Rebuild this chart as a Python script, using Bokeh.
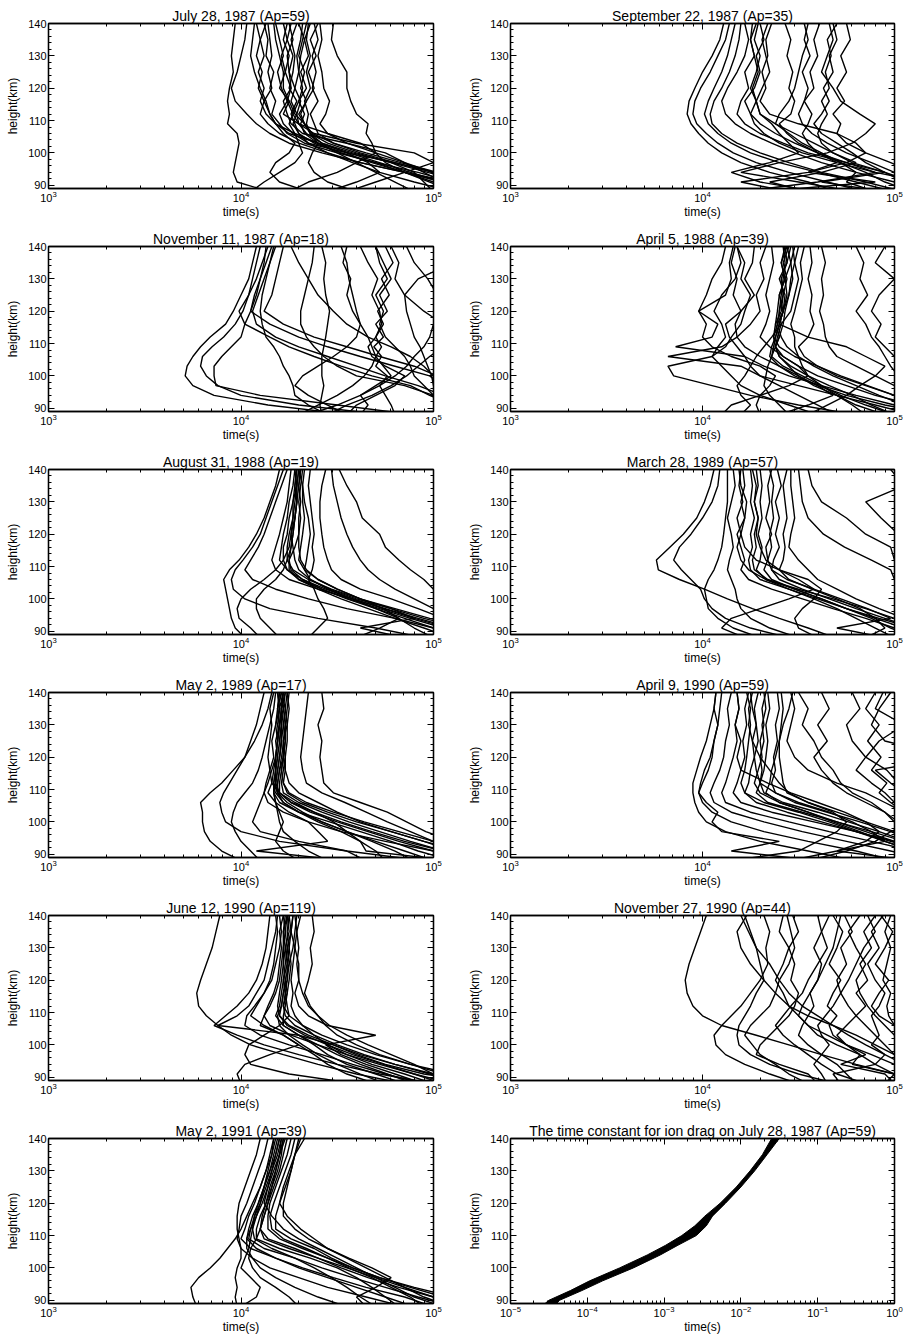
from bokeh.plotting import figure
from bokeh.layouts import column, row
from bokeh.models import (LogAxis, LinearAxis, LogTicker, SingleIntervalTicker,
                          Range1d, Title, CustomJSTickFormatter)
from bokeh.embed import file_html
from bokeh.resources import INLINE

FONT = "Liberation Sans"

# heights (km) at which every profile is sampled
heights_km = [88, 91, 94, 97, 100, 103, 106, 109, 112, 116, 120, 125, 130, 135, 140]

# each profile: log10(time in s), one value per entry of heights_km
jul87 = [
    [4.15, 3.98, 3.96, 3.97, 3.98, 3.99, 3.98, 3.93, 3.94, 3.93, 3.94, 3.96, 3.95, 3.96, 3.97],
    [5.30, 5.10, 4.85, 4.62, 4.42, 4.25, 4.15, 4.08, 4.03, 3.97, 3.95, 3.98, 4.00, 4.02, 4.03],
    [5.20, 5.05, 4.85, 4.62, 4.45, 4.30, 4.20, 4.14, 4.10, 4.12, 4.09, 4.11, 4.08, 4.10, 4.08],
    [5.30, 5.10, 4.92, 4.70, 4.50, 4.33, 4.24, 4.20, 4.16, 4.18, 4.15, 4.17, 4.13, 4.14, 4.12],
    [5.40, 5.20, 5.00, 4.80, 4.55, 4.35, 4.27, 4.22, 4.20, 4.24, 4.21, 4.19, 4.22, 4.20, 4.18],
    [5.10, 4.90, 4.72, 4.58, 4.45, 4.35, 4.30, 4.28, 4.26, 4.29, 4.25, 4.27, 4.28, 4.26, 4.29],
    [5.30, 5.05, 4.85, 4.68, 4.52, 4.40, 4.33, 4.31, 4.33, 4.30, 4.32, 4.30, 4.31, 4.33, 4.30],
    [4.60, 4.45, 4.38, 4.35, 4.37, 4.40, 4.36, 4.34, 4.35, 4.33, 4.36, 4.34, 4.36, 4.34, 4.35],
    [5.50, 5.25, 5.00, 4.80, 4.62, 4.48, 4.40, 4.38, 4.36, 4.40, 4.37, 4.39, 4.37, 4.40, 4.38],
    [5.20, 5.00, 4.85, 4.75, 4.70, 4.68, 4.65, 4.66, 4.60, 4.57, 4.55, 4.55, 4.50, 4.47, 4.48],
    [4.25, 4.35, 4.50, 4.60, 4.70, 4.62, 4.45, 4.30, 4.22, 4.25, 4.20, 4.23, 4.21, 4.24, 4.22],
    [4.55, 4.70, 4.85, 5.00, 4.90, 4.60, 4.38, 4.30, 4.29, 4.31, 4.28, 4.30, 4.29, 4.31, 4.32],
    [5.00, 4.95, 4.90, 4.78, 4.60, 4.45, 4.36, 4.33, 4.28, 4.25, 4.22, 4.22, 4.20, 4.18, 4.17],
    [4.35, 4.20, 4.15, 4.18, 4.25, 4.28, 4.22, 4.18, 4.15, 4.13, 4.10, 4.07, 4.05, 4.06, 4.07],
    [5.40, 5.20, 5.00, 4.85, 4.70, 4.55, 4.45, 4.41, 4.44, 4.46, 4.43, 4.42, 4.40, 4.42, 4.41],
    [4.90, 4.80, 4.70, 4.60, 4.50, 4.40, 4.28, 4.18, 4.15, 4.12, 4.16, 4.14, 4.16, 4.15, 4.14],
    [5.20, 5.05, 4.95, 4.85, 4.75, 4.55, 4.32, 4.26, 4.24, 4.22, 4.26, 4.25, 4.24, 4.27, 4.25],
    [5.10, 4.98, 4.85, 4.70, 4.52, 4.38, 4.30, 4.27, 4.29, 4.26, 4.28, 4.25, 4.27, 4.24, 4.26],
    [5.35, 5.15, 4.97, 4.78, 4.58, 4.42, 4.34, 4.30, 4.27, 4.30, 4.34, 4.31, 4.35, 4.33, 4.36],
    [4.45, 4.60, 4.72, 4.66, 4.55, 4.42, 4.36, 4.33, 4.31, 4.34, 4.31, 4.33, 4.30, 4.32, 4.34],
    [5.25, 5.05, 4.88, 4.72, 4.56, 4.40, 4.25, 4.18, 4.13, 4.10, 4.12, 4.09, 4.12, 4.10, 4.13],
    [5.45, 5.22, 5.02, 4.83, 4.65, 4.48, 4.37, 4.33, 4.30, 4.34, 4.38, 4.35, 4.39, 4.36, 4.40],
    [4.05, 4.12, 4.20, 4.28, 4.32, 4.30, 4.28, 4.25, 4.27, 4.24, 4.26, 4.23, 4.25, 4.22, 4.24],
]

sep87 = [
    [4.70, 4.55, 4.35, 4.20, 4.10, 4.03, 3.98, 3.94, 3.92, 3.93, 3.96, 4.00, 4.05, 4.09, 4.11],
    [4.85, 4.65, 4.45, 4.28, 4.16, 4.08, 4.02, 3.97, 3.95, 3.96, 3.99, 4.04, 4.08, 4.12, 4.14],
    [5.00, 4.80, 4.60, 4.40, 4.25, 4.15, 4.08, 4.03, 4.01, 4.03, 4.06, 4.10, 4.13, 4.15, 4.17],
    [5.20, 5.00, 4.80, 4.62, 4.48, 4.36, 4.25, 4.17, 4.12, 4.10, 4.13, 4.18, 4.22, 4.24, 4.22],
    [4.20, 4.60, 4.90, 4.75, 4.55, 4.42, 4.30, 4.22, 4.18, 4.20, 4.24, 4.22, 4.27, 4.25, 4.28],
    [5.30, 5.10, 4.95, 4.75, 4.60, 4.48, 4.38, 4.30, 4.25, 4.22, 4.27, 4.30, 4.28, 4.32, 4.30],
    [4.60, 4.30, 4.15, 4.35, 4.50, 4.45, 4.40, 4.36, 4.30, 4.28, 4.31, 4.35, 4.33, 4.31, 4.34],
    [5.10, 4.95, 4.85, 4.72, 4.62, 4.52, 4.45, 4.38, 4.40, 4.45, 4.48, 4.50, 4.52, 4.55, 4.53],
    [4.90, 4.75, 4.80, 4.72, 4.60, 4.55, 4.52, 4.55, 4.57, 4.53, 4.58, 4.56, 4.60, 4.58, 4.61],
    [5.20, 5.05, 4.95, 4.85, 4.78, 4.70, 4.62, 4.58, 4.62, 4.66, 4.63, 4.68, 4.66, 4.70, 4.68],
    [5.30, 5.20, 5.10, 4.98, 4.85, 4.75, 4.70, 4.72, 4.68, 4.74, 4.70, 4.75, 4.72, 4.77, 4.75],
    [4.45, 4.20, 4.55, 4.70, 4.60, 4.50, 4.44, 4.40, 4.46, 4.48, 4.45, 4.47, 4.44, 4.46, 4.43],
    [5.40, 5.15, 4.90, 4.70, 4.52, 4.40, 4.32, 4.27, 4.25, 4.28, 4.26, 4.29, 4.27, 4.25, 4.26],
    [4.30, 4.90, 4.55, 4.75, 4.85, 4.80, 4.70, 4.50, 4.35, 4.30, 4.33, 4.31, 4.34, 4.33, 4.36],
    [4.80, 4.50, 4.20, 4.40, 4.65, 4.78, 4.85, 4.90, 4.82, 4.72, 4.68, 4.62, 4.65, 4.68, 4.66],
    [5.05, 4.85, 4.62, 4.45, 4.30, 4.18, 4.10, 4.05, 4.04, 4.06, 4.10, 4.14, 4.17, 4.19, 4.20],
    [4.55, 4.35, 4.62, 4.80, 4.68, 4.58, 4.48, 4.38, 4.30, 4.28, 4.25, 4.28, 4.30, 4.27, 4.29],
    [5.30, 5.15, 5.00, 4.88, 4.75, 4.65, 4.57, 4.52, 4.50, 4.53, 4.55, 4.52, 4.56, 4.53, 4.55],
    [4.95, 4.62, 4.95, 4.78, 4.68, 4.62, 4.60, 4.62, 4.65, 4.62, 4.66, 4.64, 4.67, 4.65, 4.70],
]

nov87 = [
    [4.57, 4.14, 3.86, 3.75, 3.71, 3.72, 3.75, 3.79, 3.84, 3.92, 3.96, 4.00, 4.04, 4.06, 4.08],
    [4.75, 4.30, 4.00, 3.88, 3.82, 3.79, 3.80, 3.85, 3.91, 3.97, 4.01, 4.04, 4.06, 4.08, 4.10],
    [4.90, 4.50, 4.10, 3.87, 3.86, 3.86, 3.90, 3.95, 4.00, 4.02, 4.05, 4.08, 4.10, 4.12, 4.13],
    [5.30, 5.10, 4.98, 4.88, 4.68, 4.52, 4.38, 4.25, 4.15, 4.02, 3.99, 4.04, 4.08, 4.11, 4.14],
    [5.40, 5.20, 5.05, 4.92, 4.75, 4.60, 4.45, 4.30, 4.18, 4.08, 4.06, 4.09, 4.12, 4.15, 4.18],
    [4.45, 4.35, 4.28, 4.27, 4.25, 4.22, 4.20, 4.17, 4.13, 4.11, 4.10, 4.11, 4.13, 4.15, 4.17],
    [5.30, 5.10, 5.00, 4.85, 4.60, 4.50, 4.43, 4.38, 4.34, 4.31, 4.31, 4.33, 4.35, 4.37, 4.38],
    [4.42, 4.41, 4.42, 4.43, 4.42, 4.42, 4.42, 4.43, 4.44, 4.45, 4.46, 4.44, 4.43, 4.44, 4.42],
    [4.30, 4.40, 4.50, 4.58, 4.64, 4.68, 4.70, 4.68, 4.66, 4.62, 4.60, 4.58, 4.56, 4.55, 4.52],
    [4.55, 4.60, 4.70, 4.80, 4.85, 4.75, 4.68, 4.66, 4.70, 4.73, 4.72, 4.68, 4.71, 4.66, 4.62],
    [5.20, 5.10, 5.00, 4.95, 4.90, 4.88, 4.85, 4.80, 4.75, 4.72, 4.74, 4.70, 4.76, 4.72, 4.70],
    [4.62, 4.66, 4.62, 4.70, 4.78, 4.74, 4.70, 4.73, 4.70, 4.74, 4.71, 4.77, 4.73, 4.79, 4.75],
    [5.20, 5.10, 5.05, 5.00, 4.99, 4.97, 4.95, 4.93, 4.90, 4.88, 4.86, 4.85, 4.92, 5.10, 5.20],
    [4.55, 4.45, 4.35, 4.28, 4.32, 4.40, 4.48, 4.55, 4.60, 4.62, 4.58, 4.55, 4.57, 4.53, 4.55],
    [4.35, 4.50, 4.62, 4.72, 4.80, 4.86, 4.90, 4.95, 4.98, 5.00, 5.05, 5.02, 4.97, 4.90, 4.86],
    [5.40, 5.30, 5.15, 5.05, 4.98, 4.80, 4.62, 4.45, 4.30, 4.15, 4.05, 4.07, 4.10, 4.13, 4.16],
    [5.40, 5.30, 5.20, 5.10, 5.02, 4.90, 4.72, 4.55, 4.38, 4.22, 4.12, 4.16, 4.18, 4.20, 4.22],
    [5.30, 5.20, 5.10, 5.05, 5.00, 4.95, 4.88, 4.78, 4.66, 4.55, 4.48, 4.40, 4.35, 4.30, 4.26],
    [4.80, 4.78, 4.75, 4.72, 4.76, 4.70, 4.73, 4.69, 4.74, 4.70, 4.76, 4.72, 4.78, 4.74, 4.70],
    [4.45, 4.55, 4.68, 4.78, 4.86, 4.92, 4.98, 5.05, 5.10, 5.05, 4.95, 4.85, 4.80, 4.82, 4.78],
]

apr88 = [
    [4.80, 4.50, 4.25, 4.05, 3.85, 3.82, 4.05, 4.12, 4.15, 4.20, 4.22, 4.25, 4.20, 4.22, 4.18],
    [5.10, 4.90, 4.70, 4.50, 4.30, 4.20, 3.82, 4.10, 4.18, 4.17, 4.20, 4.16, 4.18, 4.15, 4.17],
    [5.20, 5.00, 4.80, 4.62, 4.45, 4.32, 4.22, 3.86, 4.05, 4.08, 3.98, 4.12, 4.15, 4.14, 4.16],
    [5.30, 5.10, 4.90, 4.75, 4.60, 4.50, 4.42, 4.38, 4.37, 4.39, 4.40, 4.41, 4.42, 4.43, 4.42],
    [4.95, 4.80, 4.70, 4.58, 4.50, 4.45, 4.40, 4.38, 4.40, 4.38, 4.41, 4.42, 4.44, 4.42, 4.45],
    [5.20, 4.95, 4.75, 4.60, 4.48, 4.40, 4.35, 4.36, 4.38, 4.40, 4.42, 4.44, 4.43, 4.46, 4.44],
    [4.45, 4.40, 4.35, 4.32, 4.33, 4.34, 4.36, 4.38, 4.40, 4.42, 4.43, 4.45, 4.47, 4.46, 4.48],
    [4.70, 4.60, 4.50, 4.40, 4.30, 4.25, 4.28, 4.32, 4.36, 4.41, 4.46, 4.48, 4.50, 4.48, 4.50],
    [5.00, 4.85, 4.72, 4.62, 4.55, 4.52, 4.50, 4.48, 4.48, 4.46, 4.48, 4.50, 4.52, 4.51, 4.53],
    [4.20, 4.25, 4.20, 4.18, 4.22, 4.25, 4.22, 4.18, 4.14, 4.12, 4.20, 4.27, 4.22, 4.26, 4.27],
    [4.60, 4.45, 4.30, 4.20, 4.15, 4.10, 4.05, 4.08, 4.12, 4.10, 4.06, 4.10, 4.17, 4.20, 4.18],
    [5.40, 5.20, 5.00, 4.85, 4.70, 4.60, 4.53, 4.50, 4.55, 4.58, 4.56, 4.57, 4.55, 4.57, 4.56],
    [5.30, 5.20, 5.10, 5.00, 4.90, 4.80, 4.70, 4.66, 4.64, 4.63, 4.61, 4.63, 4.62, 4.64, 4.62],
    [5.40, 5.30, 5.20, 5.10, 5.02, 4.98, 4.95, 4.92, 4.88, 4.85, 4.80, 4.86, 4.82, 4.84, 4.80],
    [5.40, 5.35, 5.30, 5.20, 5.10, 5.05, 5.00, 4.95, 4.90, 4.93, 4.88, 4.92, 5.00, 4.90, 4.95],
    [4.10, 4.15, 4.30, 4.45, 4.55, 4.50, 4.42, 4.35, 4.30, 4.33, 4.35, 4.33, 4.35, 4.37, 4.36],
    [4.55, 4.65, 4.75, 4.82, 4.90, 4.95, 4.85, 4.75, 4.55, 4.40, 4.42, 4.40, 4.43, 4.41, 4.43],
    [4.30, 4.28, 4.30, 4.35, 4.38, 4.30, 4.15, 4.05, 4.00, 4.02, 3.98, 4.02, 4.05, 4.10, 4.12],
    [5.00, 4.88, 4.78, 4.66, 4.55, 4.46, 4.40, 4.38, 4.39, 4.41, 4.40, 4.42, 4.41, 4.44, 4.43],
    [5.30, 5.15, 5.00, 4.86, 4.72, 4.60, 4.48, 4.40, 4.37, 4.38, 4.39, 4.40, 4.43, 4.41, 4.44],
    [4.85, 4.78, 4.70, 4.62, 4.52, 4.42, 4.36, 4.37, 4.38, 4.40, 4.42, 4.43, 4.40, 4.44, 4.46],
    [5.20, 5.05, 4.92, 4.80, 4.68, 4.58, 4.50, 4.44, 4.41, 4.39, 4.42, 4.45, 4.46, 4.48, 4.47],
    [4.40, 4.55, 4.68, 4.60, 4.50, 4.40, 4.30, 4.22, 4.18, 4.25, 4.30, 4.28, 4.32, 4.30, 4.33],
]

aug88 = [
    [4.02, 3.97, 3.95, 3.94, 3.93, 3.92, 3.91, 3.94, 3.99, 4.04, 4.08, 4.12, 4.15, 4.18, 4.20],
    [4.95, 4.70, 4.40, 4.15, 4.02, 3.96, 3.95, 3.97, 4.01, 4.06, 4.10, 4.13, 4.16, 4.19, 4.22],
    [5.20, 5.00, 4.80, 4.55, 4.35, 4.18, 4.06, 4.02, 4.05, 4.09, 4.12, 4.15, 4.18, 4.21, 4.24],
    [5.30, 5.10, 4.92, 4.75, 4.58, 4.40, 4.25, 4.18, 4.16, 4.18, 4.20, 4.22, 4.24, 4.25, 4.26],
    [5.20, 5.05, 4.88, 4.72, 4.56, 4.42, 4.32, 4.24, 4.20, 4.21, 4.22, 4.24, 4.25, 4.27, 4.28],
    [5.40, 5.20, 4.98, 4.80, 4.62, 4.47, 4.35, 4.27, 4.24, 4.24, 4.25, 4.27, 4.28, 4.29, 4.30],
    [5.10, 5.00, 4.85, 4.70, 4.55, 4.42, 4.30, 4.25, 4.25, 4.28, 4.30, 4.30, 4.31, 4.30, 4.31],
    [5.30, 5.15, 4.95, 4.78, 4.62, 4.50, 4.40, 4.33, 4.30, 4.31, 4.32, 4.33, 4.32, 4.32, 4.33],
    [5.00, 4.90, 4.82, 4.70, 4.58, 4.45, 4.36, 4.33, 4.34, 4.35, 4.36, 4.35, 4.33, 4.32, 4.30],
    [4.35, 4.40, 4.45, 4.43, 4.40, 4.38, 4.35, 4.37, 4.38, 4.37, 4.38, 4.37, 4.36, 4.35, 4.36],
    [5.30, 5.20, 5.05, 4.92, 4.78, 4.62, 4.52, 4.47, 4.45, 4.43, 4.42, 4.41, 4.41, 4.42, 4.44],
    [5.30, 5.20, 5.10, 5.00, 4.90, 4.80, 4.72, 4.66, 4.62, 4.58, 4.55, 4.52, 4.50, 4.48, 4.47],
    [5.40, 5.30, 5.20, 5.10, 5.05, 5.00, 4.95, 4.88, 4.82, 4.75, 4.72, 4.63, 4.60, 4.55, 4.51],
    [4.20, 4.15, 4.10, 4.08, 4.08, 4.12, 4.18, 4.22, 4.24, 4.26, 4.27, 4.28, 4.29, 4.28, 4.29],
    [4.85, 4.62, 4.90, 4.78, 4.60, 4.46, 4.36, 4.30, 4.28, 4.27, 4.26, 4.27, 4.27, 4.29, 4.28],
    [4.10, 4.05, 3.99, 3.98, 4.00, 4.05, 4.12, 4.18, 4.22, 4.25, 4.26, 4.28, 4.29, 4.30, 4.31],
    [5.25, 5.08, 4.90, 4.74, 4.58, 4.44, 4.32, 4.26, 4.25, 4.26, 4.27, 4.28, 4.29, 4.29, 4.30],
    [5.10, 4.95, 4.80, 4.66, 4.52, 4.40, 4.30, 4.24, 4.22, 4.22, 4.24, 4.25, 4.27, 4.28, 4.29],
    [4.60, 4.72, 4.82, 4.74, 4.62, 4.50, 4.40, 4.34, 4.31, 4.30, 4.30, 4.31, 4.30, 4.31, 4.32],
]

mar89 = [
    [4.69, 4.55, 4.40, 4.26, 4.13, 4.01, 3.88, 3.77, 3.76, 3.83, 3.90, 3.97, 4.01, 4.04, 4.06],
    [4.45, 4.25, 4.12, 4.05, 4.01, 3.99, 3.94, 3.89, 3.85, 3.88, 3.94, 4.00, 4.05, 4.08, 4.09],
    [4.30, 4.16, 4.08, 4.03, 4.02, 4.01, 4.03, 4.06, 4.08, 4.10, 4.11, 4.12, 4.13, 4.13, 4.13],
    [4.50, 4.35, 4.25, 4.20, 4.18, 4.17, 4.15, 4.13, 4.14, 4.16, 4.15, 4.13, 4.15, 4.17, 4.16],
    [5.20, 5.00, 4.85, 4.68, 4.52, 4.36, 4.24, 4.20, 4.22, 4.20, 4.18, 4.22, 4.20, 4.22, 4.21],
    [5.30, 5.10, 4.92, 4.75, 4.60, 4.45, 4.30, 4.25, 4.24, 4.26, 4.25, 4.27, 4.25, 4.26, 4.25],
    [5.40, 5.20, 5.00, 4.85, 4.68, 4.50, 4.33, 4.28, 4.30, 4.31, 4.29, 4.31, 4.30, 4.31, 4.30],
    [5.10, 4.98, 4.88, 4.75, 4.62, 4.48, 4.36, 4.32, 4.34, 4.33, 4.36, 4.33, 4.35, 4.34, 4.36],
    [5.30, 5.10, 4.95, 4.80, 4.66, 4.52, 4.40, 4.36, 4.37, 4.40, 4.38, 4.40, 4.38, 4.41, 4.39],
    [4.85, 4.95, 4.90, 4.82, 4.70, 4.57, 4.45, 4.40, 4.42, 4.43, 4.42, 4.44, 4.43, 4.42, 4.44],
    [5.30, 5.20, 5.05, 4.92, 4.80, 4.70, 4.60, 4.55, 4.50, 4.45, 4.46, 4.48, 4.47, 4.46, 4.46],
    [5.40, 5.30, 5.20, 5.10, 5.05, 5.02, 5.00, 4.98, 4.88, 4.74, 4.63, 4.55, 4.52, 4.51, 4.50],
    [5.40, 5.35, 5.30, 5.20, 5.15, 5.10, 5.05, 5.02, 5.00, 4.98, 4.85, 4.75, 4.62, 4.57, 4.55],
    [5.40, 5.30, 5.25, 5.20, 5.15, 5.10, 5.08, 5.06, 5.05, 5.04, 5.02, 4.93, 4.85, 5.05, 4.98],
    [4.22, 4.10, 4.15, 4.30, 4.45, 4.58, 4.50, 4.40, 4.33, 4.30, 4.28, 4.29, 4.27, 4.28, 4.26],
    [4.60, 4.50, 4.48, 4.52, 4.58, 4.62, 4.55, 4.40, 4.28, 4.22, 4.20, 4.22, 4.23, 4.20, 4.19],
    [5.20, 5.05, 4.90, 4.75, 4.62, 4.48, 4.34, 4.27, 4.26, 4.28, 4.27, 4.29, 4.27, 4.29, 4.28],
    [5.00, 4.90, 4.80, 4.70, 4.58, 4.45, 4.33, 4.24, 4.20, 4.18, 4.20, 4.18, 4.21, 4.19, 4.20],
    [4.95, 4.70, 4.98, 4.86, 4.72, 4.58, 4.44, 4.36, 4.34, 4.36, 4.35, 4.37, 4.36, 4.37, 4.35],
]

may89 = [
    [4.00, 3.90, 3.84, 3.81, 3.80, 3.80, 3.79, 3.84, 3.90, 3.96, 4.02, 4.07, 4.11, 4.14, 4.16],
    [4.95, 4.55, 4.20, 4.00, 3.92, 3.90, 3.89, 3.91, 3.94, 3.98, 4.02, 4.05, 4.08, 4.10, 4.12],
    [5.20, 5.00, 4.75, 4.52, 4.35, 4.22, 4.14, 4.12, 4.14, 4.16, 4.18, 4.19, 4.20, 4.19, 4.21],
    [5.10, 4.92, 4.78, 4.62, 4.46, 4.30, 4.20, 4.17, 4.18, 4.19, 4.20, 4.21, 4.21, 4.20, 4.22],
    [5.30, 5.05, 4.85, 4.68, 4.52, 4.38, 4.26, 4.20, 4.20, 4.21, 4.22, 4.22, 4.23, 4.22, 4.23],
    [4.75, 4.70, 4.62, 4.52, 4.40, 4.30, 4.22, 4.18, 4.19, 4.20, 4.22, 4.23, 4.22, 4.23, 4.21],
    [5.40, 5.20, 5.00, 4.82, 4.64, 4.48, 4.34, 4.25, 4.22, 4.23, 4.23, 4.24, 4.24, 4.25, 4.24],
    [4.30, 4.22, 4.18, 4.20, 4.22, 4.20, 4.18, 4.17, 4.18, 4.18, 4.19, 4.20, 4.19, 4.20, 4.19],
    [5.20, 5.10, 4.95, 4.78, 4.62, 4.50, 4.40, 4.30, 4.25, 4.23, 4.22, 4.21, 4.20, 4.22, 4.20],
    [5.30, 5.15, 5.00, 4.88, 4.76, 4.65, 4.54, 4.42, 4.34, 4.32, 4.31, 4.32, 4.33, 4.34, 4.35],
    [5.40, 5.25, 5.10, 4.96, 4.86, 4.76, 4.62, 4.48, 4.43, 4.42, 4.41, 4.42, 4.40, 4.43, 4.42],
    [4.65, 4.55, 4.30, 4.10, 4.06, 4.08, 4.10, 4.12, 4.13, 4.15, 4.17, 4.16, 4.18, 4.19, 4.20],
    [4.10, 4.05, 4.00, 3.97, 3.95, 3.96, 3.98, 4.02, 4.06, 4.09, 4.11, 4.13, 4.15, 4.17, 4.18],
    [5.10, 4.65, 4.62, 4.55, 4.48, 4.38, 4.28, 4.20, 4.16, 4.15, 4.14, 4.15, 4.16, 4.15, 4.17],
    [4.55, 4.08, 4.45, 4.40, 4.35, 4.25, 4.18, 4.14, 4.16, 4.17, 4.18, 4.19, 4.18, 4.20, 4.19],
    [5.00, 4.85, 4.70, 4.55, 4.42, 4.30, 4.22, 4.19, 4.19, 4.20, 4.21, 4.20, 4.21, 4.21, 4.22],
    [5.25, 5.05, 4.88, 4.72, 4.56, 4.42, 4.30, 4.22, 4.21, 4.22, 4.23, 4.22, 4.24, 4.23, 4.24],
    [4.90, 4.80, 4.68, 4.55, 4.42, 4.32, 4.24, 4.19, 4.17, 4.18, 4.19, 4.18, 4.20, 4.19, 4.20],
    [5.35, 5.15, 4.95, 4.78, 4.60, 4.45, 4.32, 4.24, 4.22, 4.21, 4.22, 4.23, 4.23, 4.24, 4.25],
    [4.45, 4.35, 4.28, 4.22, 4.20, 4.19, 4.18, 4.17, 4.17, 4.18, 4.18, 4.19, 4.20, 4.21, 4.22],
    [5.15, 5.00, 4.82, 4.66, 4.50, 4.36, 4.26, 4.20, 4.18, 4.19, 4.20, 4.21, 4.22, 4.21, 4.23],
]

apr90 = [
    [4.80, 4.55, 4.30, 4.12, 4.02, 3.98, 3.96, 3.95, 3.95, 3.97, 3.99, 4.02, 4.04, 4.06, 4.07],
    [5.00, 4.80, 4.55, 4.32, 4.15, 4.05, 4.00, 3.98, 3.99, 4.01, 4.04, 4.06, 4.08, 4.09, 4.10],
    [5.20, 4.98, 4.75, 4.52, 4.32, 4.15, 4.06, 4.04, 4.06, 4.09, 4.11, 4.12, 4.14, 4.13, 4.15],
    [5.30, 5.10, 4.88, 4.66, 4.45, 4.25, 4.12, 4.10, 4.12, 4.14, 4.16, 4.18, 4.17, 4.19, 4.18],
    [5.40, 5.20, 5.00, 4.80, 4.58, 4.36, 4.20, 4.16, 4.18, 4.20, 4.22, 4.21, 4.23, 4.22, 4.24],
    [5.30, 5.15, 4.98, 4.80, 4.62, 4.44, 4.28, 4.22, 4.24, 4.25, 4.27, 4.26, 4.28, 4.27, 4.29],
    [5.40, 5.25, 5.05, 4.88, 4.70, 4.52, 4.34, 4.28, 4.30, 4.31, 4.30, 4.32, 4.31, 4.33, 4.32],
    [5.20, 5.10, 4.95, 4.82, 4.68, 4.55, 4.40, 4.33, 4.35, 4.36, 4.38, 4.40, 4.42, 4.45, 4.47],
    [5.40, 5.30, 5.15, 5.00, 4.85, 4.70, 4.55, 4.44, 4.42, 4.41, 4.40, 4.40, 4.41, 4.42, 4.41],
    [4.15, 4.50, 4.60, 4.70, 4.75, 4.68, 4.55, 4.45, 4.40, 4.35, 4.30, 4.26, 4.24, 4.25, 4.23],
    [5.30, 5.20, 5.10, 5.05, 5.00, 4.95, 4.88, 4.78, 4.72, 4.68, 4.62, 4.58, 4.52, 4.55, 4.50],
    [5.40, 5.30, 5.20, 5.15, 5.10, 5.05, 5.00, 4.95, 4.88, 4.80, 4.85, 4.78, 4.75, 4.82, 4.78],
    [5.40, 5.35, 5.30, 5.25, 5.20, 5.15, 5.10, 5.05, 4.98, 4.90, 5.30, 4.95, 4.88, 4.92, 4.98],
    [5.40, 5.35, 5.30, 5.25, 5.20, 5.15, 5.10, 5.05, 5.02, 4.96, 4.85, 4.92, 5.05, 4.90, 4.94],
    [4.60, 4.15, 4.40, 4.10, 4.05, 4.08, 4.02, 3.98, 4.00, 4.03, 4.05, 4.06, 4.08, 4.06, 4.07],
    [4.55, 4.75, 4.90, 4.98, 5.10, 5.05, 4.95, 4.85, 4.70, 4.55, 4.48, 4.44, 4.46, 4.48, 4.46],
    [5.10, 4.70, 4.95, 4.88, 4.78, 4.66, 4.50, 4.38, 4.30, 4.28, 4.27, 4.29, 4.28, 4.26, 4.25],
    [4.45, 4.70, 4.85, 4.92, 4.85, 4.74, 4.60, 4.46, 4.34, 4.20, 4.18, 4.20, 4.17, 4.19, 4.18],
    [5.30, 5.15, 5.00, 4.85, 4.70, 4.55, 4.40, 4.30, 4.27, 4.29, 4.31, 4.30, 4.32, 4.31, 4.33],
    [5.35, 5.22, 5.06, 4.92, 4.76, 4.60, 4.42, 4.32, 4.30, 4.32, 4.33, 4.34, 4.33, 4.35, 4.34],
    [5.25, 5.10, 4.95, 4.80, 4.66, 4.50, 4.32, 4.22, 4.20, 4.22, 4.23, 4.24, 4.25, 4.24, 4.26],
    [5.40, 5.28, 5.12, 4.98, 4.82, 4.65, 4.48, 4.38, 4.36, 4.38, 4.37, 4.39, 4.38, 4.40, 4.39],
    [5.40, 5.30, 5.20, 5.10, 5.02, 4.95, 4.85, 4.75, 4.68, 4.62, 4.58, 4.65, 4.60, 4.66, 4.62],
    [5.40, 5.35, 5.25, 5.18, 5.10, 5.05, 4.98, 4.92, 4.96, 4.88, 4.93, 4.86, 4.92, 4.85, 4.90],
]

jun90 = [
    [4.85, 4.60, 4.40, 4.22, 4.05, 3.95, 3.88, 3.82, 3.78, 3.77, 3.79, 3.82, 3.85, 3.87, 3.89],
    [5.00, 4.72, 4.50, 4.30, 4.12, 3.98, 3.86, 3.92, 3.98, 4.04, 4.08, 4.11, 4.13, 4.14, 4.15],
    [4.95, 4.75, 4.58, 4.42, 4.25, 4.10, 4.02, 4.03, 4.07, 4.12, 4.15, 4.17, 4.18, 4.19, 4.18],
    [5.10, 4.90, 4.72, 4.55, 4.40, 4.26, 4.15, 4.12, 4.14, 4.17, 4.19, 4.20, 4.21, 4.20, 4.22],
    [5.20, 5.00, 4.80, 4.62, 4.48, 4.35, 4.25, 4.20, 4.19, 4.20, 4.21, 4.22, 4.22, 4.23, 4.22],
    [4.85, 4.70, 4.55, 4.45, 4.38, 4.30, 4.22, 4.18, 4.20, 4.21, 4.22, 4.23, 4.24, 4.23, 4.24],
    [5.30, 5.10, 4.88, 4.70, 4.55, 4.42, 4.32, 4.25, 4.22, 4.23, 4.24, 4.24, 4.25, 4.24, 4.25],
    [4.70, 4.55, 4.45, 4.38, 4.30, 4.22, 4.12, 4.05, 4.08, 4.12, 4.16, 4.18, 4.20, 4.21, 4.20],
    [5.00, 4.85, 4.68, 4.55, 4.45, 4.38, 4.32, 4.28, 4.26, 4.27, 4.26, 4.27, 4.28, 4.26, 4.27],
    [4.95, 4.80, 4.65, 4.52, 4.44, 4.70, 4.45, 4.35, 4.30, 4.28, 4.30, 4.29, 4.30, 4.29, 4.31],
    [5.20, 5.05, 4.88, 4.72, 4.60, 4.50, 4.44, 4.40, 4.36, 4.33, 4.35, 4.37, 4.36, 4.38, 4.37],
    [4.00, 3.98, 4.02, 4.15, 4.30, 4.22, 4.10, 4.12, 4.15, 4.18, 4.20, 4.21, 4.22, 4.22, 4.23],
    [5.30, 4.95, 4.75, 4.60, 4.48, 4.30, 3.88, 3.98, 4.04, 4.08, 4.12, 4.14, 4.16, 4.18, 4.19],
    [4.60, 4.25, 4.05, 4.02, 4.04, 4.12, 4.20, 4.25, 4.24, 4.23, 4.22, 4.24, 4.23, 4.25, 4.24],
    [5.10, 5.00, 4.90, 4.78, 4.66, 4.55, 4.46, 4.40, 4.35, 4.32, 4.30, 4.30, 4.28, 4.29, 4.28],
    [5.05, 4.90, 4.74, 4.58, 4.45, 4.33, 4.24, 4.20, 4.21, 4.22, 4.23, 4.22, 4.23, 4.22, 4.24],
    [4.90, 4.76, 4.62, 4.50, 4.40, 4.30, 4.22, 4.22, 4.23, 4.24, 4.25, 4.26, 4.25, 4.26, 4.25],
    [5.15, 4.98, 4.80, 4.64, 4.50, 4.38, 4.28, 4.23, 4.22, 4.24, 4.23, 4.25, 4.24, 4.26, 4.27],
    [4.75, 4.62, 4.50, 4.40, 4.32, 4.25, 4.20, 4.19, 4.21, 4.22, 4.24, 4.25, 4.27, 4.28, 4.29],
]

nov90 = [
    [5.20, 5.00, 4.80, 4.62, 4.45, 4.28, 4.10, 4.00, 3.95, 3.92, 3.91, 3.93, 3.96, 3.99, 4.02],
    [4.50, 4.35, 4.22, 4.12, 4.07, 4.06, 4.10, 4.15, 4.20, 4.25, 4.30, 4.34, 4.33, 4.35, 4.32],
    [4.70, 4.50, 4.35, 4.25, 4.19, 4.18, 4.19, 4.22, 4.25, 4.28, 4.32, 4.30, 4.28, 4.25, 4.22],
    [5.30, 5.20, 5.10, 5.00, 4.90, 4.80, 4.68, 4.55, 4.45, 4.38, 4.32, 4.25, 4.20, 4.18, 4.23],
    [5.30, 5.15, 5.05, 4.95, 4.85, 4.76, 4.68, 4.60, 4.52, 4.45, 4.40, 4.35, 4.28, 4.24, 4.20],
    [4.60, 4.55, 4.40, 4.28, 4.30, 4.35, 4.40, 4.45, 4.48, 4.50, 4.46, 4.48, 4.45, 4.50, 4.47],
    [4.80, 4.75, 4.70, 4.62, 4.55, 4.50, 4.52, 4.55, 4.58, 4.56, 4.60, 4.62, 4.58, 4.62, 4.60],
    [5.00, 4.95, 4.72, 4.85, 4.75, 4.68, 4.66, 4.70, 4.65, 4.68, 4.72, 4.66, 4.70, 4.73, 4.68],
    [5.30, 5.20, 5.10, 5.00, 4.95, 4.90, 4.85, 4.80, 4.76, 4.72, 4.70, 4.75, 4.72, 4.78, 4.74],
    [5.40, 5.30, 5.20, 5.10, 5.05, 5.00, 4.95, 4.90, 4.86, 4.82, 4.80, 4.85, 4.80, 4.76, 4.82],
    [4.72, 4.68, 4.90, 4.95, 4.88, 4.92, 4.90, 4.88, 4.92, 4.95, 4.90, 4.86, 4.92, 4.88, 4.94],
    [4.85, 4.70, 4.62, 4.55, 4.48, 4.42, 4.38, 4.42, 4.46, 4.52, 4.55, 4.60, 4.65, 4.62, 4.66],
    [5.20, 5.10, 5.00, 4.88, 4.75, 4.65, 4.55, 4.50, 4.52, 4.56, 4.60, 4.64, 4.68, 4.70, 4.72],
    [5.30, 5.25, 5.20, 5.15, 5.10, 5.05, 5.00, 4.97, 4.96, 4.98, 4.94, 4.96, 4.98, 4.95, 4.98],
    [4.95, 5.00, 4.78, 4.82, 4.70, 4.60, 4.55, 4.50, 4.45, 4.42, 4.38, 4.42, 4.45, 4.40, 4.42],
    [4.55, 4.45, 4.38, 4.30, 4.26, 4.22, 4.25, 4.30, 4.35, 4.38, 4.40, 4.45, 4.48, 4.46, 4.44],
    [5.10, 5.00, 4.90, 4.82, 4.75, 4.70, 4.75, 4.80, 4.85, 4.80, 4.86, 4.82, 4.88, 4.84, 4.90],
    [4.65, 4.62, 4.58, 4.62, 4.66, 4.62, 4.60, 4.64, 4.68, 4.72, 4.76, 4.80, 4.84, 4.90, 4.86],
    [5.40, 5.35, 5.30, 5.25, 5.20, 5.10, 5.00, 4.92, 4.88, 4.92, 4.97, 4.90, 4.95, 4.99, 4.93],
]

may91 = [
    [3.77, 3.75, 3.74, 3.78, 3.84, 3.89, 3.93, 3.97, 4.00, 4.03, 4.06, 4.10, 4.13, 4.15, 4.17],
    [3.98, 3.97, 3.98, 3.97, 3.98, 4.00, 4.00, 3.99, 3.98, 3.98, 3.99, 4.02, 4.05, 4.08, 4.10],
    [4.85, 4.65, 4.45, 4.30, 4.15, 4.06, 4.00, 3.98, 3.99, 4.00, 4.03, 4.06, 4.09, 4.12, 4.14],
    [5.00, 4.85, 4.65, 4.48, 4.32, 4.18, 4.05, 4.00, 4.02, 4.04, 4.07, 4.10, 4.13, 4.16, 4.18],
    [5.10, 4.92, 4.75, 4.58, 4.42, 4.28, 4.12, 4.04, 4.05, 4.08, 4.11, 4.14, 4.16, 4.18, 4.20],
    [4.82, 4.75, 4.68, 4.60, 4.50, 4.36, 4.20, 4.08, 4.08, 4.10, 4.13, 4.16, 4.19, 4.21, 4.22],
    [5.20, 5.00, 4.82, 4.66, 4.52, 4.40, 4.28, 4.14, 4.10, 4.12, 4.14, 4.17, 4.20, 4.22, 4.24],
    [4.95, 4.88, 4.78, 4.68, 4.56, 4.45, 4.32, 4.20, 4.14, 4.14, 4.15, 4.18, 4.21, 4.24, 4.26],
    [5.30, 5.10, 4.90, 4.72, 4.58, 4.47, 4.38, 4.26, 4.18, 4.18, 4.20, 4.23, 4.26, 4.28, 4.30],
    [4.65, 4.60, 4.70, 4.78, 4.68, 4.56, 4.45, 4.35, 4.28, 4.22, 4.22, 4.24, 4.26, 4.28, 4.31],
    [5.10, 4.95, 4.85, 4.75, 4.65, 4.55, 4.45, 4.38, 4.31, 4.24, 4.20, 4.22, 4.25, 4.28, 4.33],
    [4.30, 4.25, 4.18, 4.10, 4.06, 4.04, 4.05, 4.08, 4.10, 4.12, 4.14, 4.16, 4.18, 4.20, 4.21],
    [4.00, 4.08, 4.10, 4.05, 4.00, 4.02, 4.04, 4.05, 4.06, 4.08, 4.10, 4.12, 4.15, 4.17, 4.19],
    [4.55, 4.40, 4.28, 4.18, 4.10, 4.06, 4.03, 4.03, 4.05, 4.07, 4.09, 4.12, 4.14, 4.16, 4.17],
    [5.05, 4.90, 4.80, 4.70, 4.60, 4.50, 4.40, 4.30, 4.22, 4.16, 4.12, 4.14, 4.17, 4.20, 4.22],
    [4.90, 4.75, 4.60, 4.45, 4.30, 4.18, 4.08, 4.03, 4.04, 4.06, 4.09, 4.12, 4.15, 4.18, 4.20],
    [5.15, 5.00, 4.85, 4.70, 4.55, 4.40, 4.25, 4.12, 4.10, 4.11, 4.13, 4.15, 4.18, 4.20, 4.23],
    [4.70, 4.62, 4.55, 4.47, 4.38, 4.28, 4.16, 4.07, 4.06, 4.07, 4.10, 4.13, 4.16, 4.19, 4.21],
    [5.25, 5.05, 4.88, 4.72, 4.58, 4.45, 4.34, 4.22, 4.16, 4.15, 4.17, 4.20, 4.23, 4.26, 4.28],
]

# ion-drag time constant band (July 28, 1987): left/right edges, log10(time in s)
ion_heights_km = [89, 90, 93, 96, 100, 104, 107, 110, 113, 116, 120, 125, 130, 135, 140]
ion_left_log10 = [-4.55, -4.50, -4.22, -3.97, -3.58, -3.22, -2.98, -2.77, -2.60, -2.47,
                  -2.27, -2.06, -1.88, -1.72, -1.60]
ion_right_log10 = [-4.40, -4.36, -4.07, -3.80, -3.40, -3.05, -2.82, -2.58, -2.45, -2.37,
                   -2.20, -2.00, -1.82, -1.66, -1.50]

panel_titles = [
    "July 28, 1987 (Ap=59)", "September 22, 1987 (Ap=35)",
    "November 11, 1987 (Ap=18)", "April 5, 1988 (Ap=39)",
    "August 31, 1988 (Ap=19)", "March 28, 1989 (Ap=57)",
    "May 2, 1989 (Ap=17)", "April 9, 1990 (Ap=59)",
    "June 12, 1990 (Ap=119)", "November 27, 1990 (Ap=44)",
    "May 2, 1991 (Ap=39)", "The time constant for ion drag on July 28, 1987 (Ap=59)",
]
profile_sets = [jul87, sep87, nov87, apr88, aug88, mar89, may89, apr90, jun90, nov90, may91]

for s in profile_sets:
    for prof in s:
        assert len(prof) == len(heights_km)


def style_axis(ax, show_labels):
    ax.axis_line_color = "black"
    ax.axis_line_width = 1.3
    ax.major_tick_line_color = "black"
    ax.minor_tick_line_color = "black"
    ax.major_tick_in = 6
    ax.major_tick_out = 0
    ax.minor_tick_in = 3
    ax.minor_tick_out = 0
    if show_labels:
        ax.major_label_text_font = FONT
        ax.major_label_text_font_size = "11px"
        ax.major_label_text_color = "black"
        ax.major_label_standoff = 2
        ax.axis_label_text_font = FONT
        ax.axis_label_text_font_size = "12px"
        ax.axis_label_text_font_style = "normal"
        ax.axis_label_text_color = "black"
        ax.axis_label_standoff = 0
    else:
        ax.formatter = CustomJSTickFormatter(code="return ''")
        ax.major_label_text_font_size = "1px"
        ax.major_label_standoff = 0


def make_panel(idx, x_start, x_end):
    col = idx % 2
    r = idx // 2
    if col == 0:
        bl, fw, br = 48, 385, 27
    else:
        bl, fw, br = 50, 384, 11
    bt = 23 if r == 0 else 20
    bb = 37 if r == 5 else 38
    p = figure(x_axis_type="log", x_range=Range1d(x_start, x_end),
               y_range=Range1d(89, 140), frame_width=fw, frame_height=165,
               min_border_left=bl, min_border_right=br, min_border_top=bt,
               min_border_bottom=bb, output_backend="svg", toolbar_location=None,
               background_fill_color="white", border_fill_color="white")
    p.xgrid.visible = False
    p.ygrid.visible = False
    p.outline_line_color = "black"
    p.outline_line_width = 1.3
    p.xaxis.ticker = LogTicker(num_minor_ticks=10)
    p.yaxis.ticker = SingleIntervalTicker(interval=10, num_minor_ticks=5)
    p.xaxis.axis_label = "time(s)"
    p.yaxis.axis_label = "height(km)"
    style_axis(p.xaxis[0], True)
    style_axis(p.yaxis[0], True)
    p.yaxis[0].axis_label_standoff = 5
    top = LogAxis(ticker=LogTicker(num_minor_ticks=10))
    right = LinearAxis(ticker=SingleIntervalTicker(interval=10, num_minor_ticks=5))
    style_axis(top, False)
    style_axis(right, False)
    p.add_layout(top, "above")
    p.add_layout(right, "right")
    p.add_layout(Title(text=panel_titles[idx], align="center", text_font=FONT,
                       text_font_size="14px", text_font_style="normal",
                       text_color="black", standoff=0, offset=0), "above")
    return p


figs = []
for i, profs in enumerate(profile_sets):
    p = make_panel(i, 1e3, 1e5)
    xs = [[10 ** v for v in prof] for prof in profs]
    ys = [list(heights_km) for _ in profs]
    p.multi_line(xs, ys, line_color="black", line_width=1.4)
    figs.append(p)

p12 = make_panel(11, 1e-5, 1e0)
p12.harea(x1=[10 ** v for v in ion_left_log10], x2=[10 ** v for v in ion_right_log10],
          y=ion_heights_km, fill_color="black")
p12.multi_line([[10 ** v for v in ion_left_log10], [10 ** v for v in ion_right_log10]],
               [ion_heights_km, ion_heights_km], line_color="black", line_width=1.0)
figs.append(p12)

layout = column(*[row(figs[2 * k], figs[2 * k + 1]) for k in range(6)])

with open("out.html", "w") as f:
    f.write(file_html(layout, INLINE))
